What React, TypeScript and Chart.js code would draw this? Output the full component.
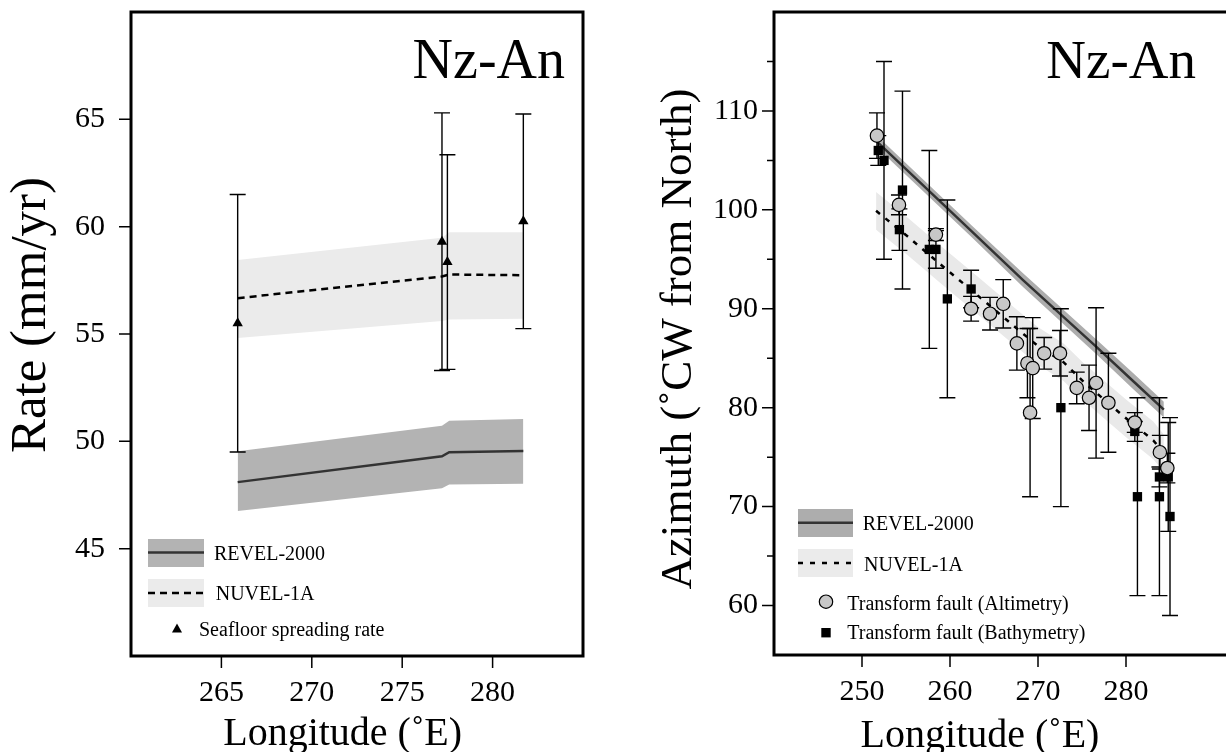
import React, { useEffect, useRef } from "react";
import { Chart, registerables } from "chart.js";
Chart.register(...registerables);

const FONT = "'Liberation Serif', 'Times New Roman', Times, serif";

// ---------------- Left panel: spreading rate ----------------
const rateXTicks = [265, 270, 275, 280];
const rateYTicks = [45, 50, 55, 60, 65];
const rateModelLon = [265.9, 277.2, 277.6, 281.7];
const revelRate = [48.1, 49.3, 49.49, 49.55];
const revelRateHi = [49.54, 50.73, 50.96, 51.04];
const revelRateLo = [46.75, 47.82, 47.99, 48.02];
const nuvelRate = [56.67, 57.68, 57.77, 57.74];
const nuvelRateHi = [58.45, 59.48, 59.74, 59.74];
const nuvelRateLo = [54.81, 55.6, 55.67, 55.71];
const spreadLon = [265.9, 277.2, 277.5, 281.7];
const spreadRate = [55.5, 59.3, 58.35, 60.25];
const spreadErr = [6.0, 6.0, 5.0, 5.0];

// ---------------- Right panel: azimuth ----------------
const azXTicks = [250, 260, 270, 280];
const azYTicks = [60, 65, 70, 75, 80, 85, 90, 95, 100, 105, 110, 115];
const revelAzLon = [251.7, 262.5, 268.3, 276.7, 280.8, 284.3];
const revelAz = [106.9, 97.8, 92.9, 86.1, 82.7, 79.8];
const revelAzHi = [107.5, 98.4, 93.6, 86.85, 83.5, 80.6];
const revelAzLo = [106.3, 97.2, 92.2, 85.35, 81.9, 79.0];
const nuvelAzLon = [251.6, 255.2, 258.9, 263.2, 267.6, 269.9, 272.9, 275.2, 279.9, 283.1, 284.3];
const nuvelAz = [99.9, 97.3, 94.5, 91.3, 88.0, 86.3, 84.6, 82.6, 79.0, 76.7, 75.4];
const nuvelAzHi = [101.8, 99.2, 96.4, 93.2, 89.9, 88.2, 86.5, 84.5, 80.9, 78.6, 77.3];
const nuvelAzLo = [98.0, 95.4, 92.6, 89.4, 86.1, 84.4, 82.7, 80.7, 77.1, 74.8, 73.5];

const altLon = [251.7, 254.2, 258.4, 262.4, 264.55, 266.05, 267.6, 268.8, 269.4, 269.1, 270.7, 272.5, 274.4, 275.8, 276.6, 278.0, 281.0, 283.85, 284.7];
const altAz = [107.5, 100.5, 97.5, 90.0, 89.5, 90.5, 86.5, 84.5, 84.0, 79.5, 85.5, 85.5, 82.0, 81.0, 82.5, 80.5, 78.5, 75.5, 73.9];
const altErr = [2.3, 1.0, 0.6, 1.25, 1.65, 2.45, 2.7, 3.5, 5.1, 8.5, 1.6, 2.3, 1.6, 3.3, 7.6, 5.0, 1.0, 1.7, 1.5];

const bathLon = [251.85, 252.5, 254.6, 254.25, 257.65, 258.4, 259.7, 262.4, 272.6, 281.3, 281.0, 283.8, 284.8, 283.8, 285.0];
const bathAz = [106.0, 105.0, 102.0, 98.0, 96.0, 96.0, 91.0, 92.0, 80.0, 71.0, 77.6, 73.0, 73.0, 71.0, 69.0];
const bathErr = [1.5, 10, 10, 2.1, 10, 1.9, 10, 1.9, 10, 10, 1.0, 1.0, 5.5, 10, 10];

const pts = (xs: number[], ys: number[]) => xs.map((x, i) => ({ x, y: ys[i] }));

type ErrSet = { xs: number[]; ys: number[]; es: number[] };

const makeErrPlugin = (beforeIndex: number, sets: ErrSet[]) => ({
  id: "errbars",
  beforeDatasetDraw(chart: any, args: any) {
    if (args.index !== beforeIndex) return;
    const { ctx, scales } = chart;
    ctx.save();
    ctx.strokeStyle = "#000";
    ctx.lineWidth = 1.4;
    sets.forEach((s) => {
      s.xs.forEach((xv, i) => {
        const px = scales.x.getPixelForValue(xv);
        const p1 = scales.y.getPixelForValue(s.ys[i] - s.es[i]);
        const p2 = scales.y.getPixelForValue(s.ys[i] + s.es[i]);
        ctx.beginPath();
        ctx.moveTo(px, p1);
        ctx.lineTo(px, p2);
        ctx.moveTo(px - 8, p1);
        ctx.lineTo(px + 8, p1);
        ctx.moveTo(px - 8, p2);
        ctx.lineTo(px + 8, p2);
        ctx.stroke();
      });
    });
    ctx.restore();
  },
});

type DecorCfg = {
  title: string;
  titleRight: number;
  titleSize: number;
  xTitle: string;
  xTitleCenter: number;
  xTitleBase: number;
  yTitle: string;
  yTitleBase: number;
  yTitleCenter: number;
  yTitleSize: number;
  isMajorY: (v: number) => boolean;
  legend: (ctx: CanvasRenderingContext2D, L: number, B: number) => void;
};

const makeDecor = (d: DecorCfg) => ({
  id: "decor",
  afterDatasetsDraw(chart: any) {
    const { ctx, chartArea: a, scales } = chart;
    ctx.save();
    ctx.strokeStyle = "#000";
    ctx.lineWidth = 1.5;
    ctx.beginPath();
    scales.x.ticks.forEach((t: any) => {
      const p = scales.x.getPixelForValue(t.value);
      ctx.moveTo(p, a.bottom);
      ctx.lineTo(p, a.bottom + 12);
    });
    scales.y.ticks.forEach((t: any) => {
      const p = scales.y.getPixelForValue(t.value);
      const len = d.isMajorY(t.value) ? 12 : 7;
      ctx.moveTo(a.left - len, p);
      ctx.lineTo(a.left, p);
    });
    ctx.stroke();
    ctx.lineWidth = 3;
    ctx.strokeRect(a.left, a.top, a.right - a.left, a.bottom - a.top);
    ctx.restore();
  },
  afterDraw(chart: any) {
    const { ctx, chartArea: a } = chart;
    const L = a.left;
    const B = a.bottom;
    ctx.save();
    ctx.fillStyle = "#000";
    ctx.textBaseline = "alphabetic";
    ctx.font = `${d.titleSize}px ${FONT}`;
    ctx.textAlign = "right";
    ctx.fillText(d.title, L + d.titleRight, a.top + 66);
    ctx.font = `40px ${FONT}`;
    ctx.textAlign = "center";
    ctx.fillText(d.xTitle, L + d.xTitleCenter, B + d.xTitleBase);
    ctx.save();
    ctx.font = `${d.yTitleSize}px ${FONT}`;
    ctx.translate(L - d.yTitleBase, a.top + d.yTitleCenter);
    ctx.rotate(-Math.PI / 2);
    ctx.fillText(d.yTitle, 0, 0);
    ctx.restore();
    d.legend(ctx, L, B);
    ctx.restore();
  },
});

const dashedLine = (ctx: CanvasRenderingContext2D, x1: number, x2: number, y: number, dash: number[]) => {
  ctx.save();
  ctx.setLineDash(dash);
  ctx.strokeStyle = "#000";
  ctx.lineWidth = 2.5;
  ctx.beginPath();
  ctx.moveTo(x1, y);
  ctx.lineTo(x2, y);
  ctx.stroke();
  ctx.restore();
};

const solidLine = (ctx: CanvasRenderingContext2D, x1: number, x2: number, y: number) => {
  ctx.save();
  ctx.strokeStyle = "#333";
  ctx.lineWidth = 2.5;
  ctx.beginPath();
  ctx.moveTo(x1, y);
  ctx.lineTo(x2, y);
  ctx.stroke();
  ctx.restore();
};

const tickFont = { family: FONT, size: 30 };

const axisCommon = (min: number, max: number, ticks: number[], fit: (s: any) => void, label: (v: number) => string, pad: number) => ({
  type: "linear",
  min,
  max,
  afterBuildTicks: (s: any) => {
    s.ticks = ticks.map((v) => ({ value: v }));
  },
  afterFit: (s: any) => {
    fit(s);
    s.paddingTop = 0;
    s.paddingBottom = 0;
    s.paddingLeft = 0;
    s.paddingRight = 0;
  },
  grid: { display: false, drawTicks: true, tickLength: 12 },
  border: { display: false },
  ticks: {
    color: "#000",
    font: tickFont,
    padding: pad,
    autoSkip: false,
    maxRotation: 0,
    callback: (v: any) => label(Number(v)),
  },
});

const lineDs = (data: any[], extra: any) => ({
  type: "line",
  data,
  pointRadius: 0,
  borderWidth: 0,
  tension: 0,
  fill: false,
  ...extra,
});

function buildRate(canvas: HTMLCanvasElement) {
  const datasets: any[] = [
    {
      type: "line",
      data: pts(spreadLon, spreadRate),
      showLine: false,
      pointStyle: "triangle",
      pointRadius: 6,
      pointBackgroundColor: "#000",
      pointBorderColor: "#000",
      pointBorderWidth: 0,
      order: 0,
    },
    lineDs(pts(rateModelLon, revelRate), { borderColor: "#333", borderWidth: 2.5, order: 1 }),
    lineDs(pts(rateModelLon, nuvelRate), { borderColor: "#000", borderWidth: 2.5, borderDash: [7, 5], order: 2 }),
    lineDs(pts(rateModelLon, revelRateHi), { fill: 4, backgroundColor: "#b3b3b3", order: 3 }),
    lineDs(pts(rateModelLon, revelRateLo), { order: 4 }),
    lineDs(pts(rateModelLon, nuvelRateHi), { fill: 6, backgroundColor: "#ebebeb", order: 5 }),
    lineDs(pts(rateModelLon, nuvelRateLo), { order: 6 }),
  ];
  const decor = makeDecor({
    title: "Nz-An",
    titleRight: 434,
    titleSize: 56,
    xTitle: "Longitude (\u02DAE)",
    xTitleCenter: 211.6,
    xTitleBase: 89,
    yTitle: "Rate (mm/yr)",
    yTitleBase: 86,
    yTitleCenter: 303,
    yTitleSize: 51,
    isMajorY: () => true,
    legend: (ctx, L, B) => {
      ctx.fillStyle = "#b3b3b3";
      ctx.fillRect(L + 17, B - 117, 56, 28);
      solidLine(ctx, L + 17, L + 73, B - 103.5);
      ctx.fillStyle = "#ebebeb";
      ctx.fillRect(L + 17, B - 77, 56, 28);
      dashedLine(ctx, L + 17, L + 73, B - 63, [7, 5]);
      ctx.fillStyle = "#000";
      const tx = L + 46, ty = B - 27;
      ctx.beginPath();
      ctx.moveTo(tx, ty - 5.5);
      ctx.lineTo(tx + 5, ty + 3.5);
      ctx.lineTo(tx - 5, ty + 3.5);
      ctx.closePath();
      ctx.fill();
      ctx.font = `20px ${FONT}`;
      ctx.textAlign = "left";
      ctx.textBaseline = "alphabetic";
      ctx.fillText("REVEL-2000", L + 83, B - 96);
      ctx.fillText("NUVEL-1A", L + 84.7, B - 56);
      ctx.fillText("Seafloor spreading rate", L + 68, B - 20);
    },
  });
  return new Chart(canvas, {
    type: "line",
    data: { datasets },
    options: {
      responsive: false,
      maintainAspectRatio: false,
      animation: false,
      events: [],
      layout: { padding: { left: 0, top: 12, right: 37, bottom: 0 } },
      plugins: { legend: { display: false }, tooltip: { enabled: false }, title: { display: false } },
      scales: {
        x: axisCommon(260, 285, rateXTicks, (s: any) => { s.height = 96; }, (v) => String(v), 7),
        y: axisCommon(40, 70, rateYTicks, (s: any) => { s.width = 131; }, (v) => String(v), 14),
      },
    } as any,
    plugins: [makeErrPlugin(0, [{ xs: spreadLon, ys: spreadRate, es: spreadErr }]), decor],
  } as any);
}

function buildAz(canvas: HTMLCanvasElement) {
  const datasets: any[] = [
    {
      type: "line",
      data: pts(altLon, altAz),
      showLine: false,
      pointStyle: "circle",
      pointRadius: 6.7,
      pointBackgroundColor: "#c8c8c8",
      pointBorderColor: "#000",
      pointBorderWidth: 1.2,
      order: 0,
    },
    {
      type: "line",
      data: pts(bathLon, bathAz),
      showLine: false,
      pointStyle: "rect",
      pointRadius: 6.6,
      pointBackgroundColor: "#000",
      pointBorderColor: "#000",
      pointBorderWidth: 0,
      order: 1,
    },
    lineDs(pts(revelAzLon, revelAz), { borderColor: "#333", borderWidth: 2.5, order: 2 }),
    lineDs(pts(nuvelAzLon, nuvelAz), { borderColor: "#000", borderWidth: 2.5, borderDash: [5, 7], order: 3 }),
    lineDs(pts(revelAzLon, revelAzHi), { fill: 5, backgroundColor: "#adadad", order: 4 }),
    lineDs(pts(revelAzLon, revelAzLo), { order: 5 }),
    lineDs(pts(nuvelAzLon, nuvelAzHi), { fill: 7, backgroundColor: "#e9e9e9", order: 6 }),
    lineDs(pts(nuvelAzLon, nuvelAzLo), { order: 7 }),
  ];
  const decor = makeDecor({
    title: "Nz-An",
    titleRight: 422,
    titleSize: 55,
    xTitle: "Longitude (\u02DAE)",
    xTitleCenter: 206,
    xTitleBase: 91.7,
    yTitle: "Azimuth (\u02DACW from North)",
    yTitleBase: 83,
    yTitleCenter: 327,
    yTitleSize: 45,
    isMajorY: (v) => v % 10 === 0,
    legend: (ctx, L, B) => {
      ctx.fillStyle = "#adadad";
      ctx.fillRect(L + 24, B - 146, 55, 28);
      solidLine(ctx, L + 24, L + 79, B - 132.3);
      ctx.fillStyle = "#ebebeb";
      ctx.fillRect(L + 24, B - 106, 55, 28);
      dashedLine(ctx, L + 24, L + 79, B - 92, [5, 7]);
      ctx.beginPath();
      ctx.arc(L + 52, B - 53.3, 6.7, 0, Math.PI * 2);
      ctx.fillStyle = "#c8c8c8";
      ctx.fill();
      ctx.strokeStyle = "#000";
      ctx.lineWidth = 1.2;
      ctx.stroke();
      ctx.fillStyle = "#000";
      ctx.fillRect(L + 47.3, B - 27, 9.4, 9.4);
      ctx.font = `20px ${FONT}`;
      ctx.textAlign = "left";
      ctx.textBaseline = "alphabetic";
      ctx.fillText("REVEL-2000", L + 88.7, B - 125);
      ctx.fillText("NUVEL-1A", L + 90, B - 84.3);
      ctx.fillText("Transform fault (Altimetry)", L + 73.3, B - 45);
      ctx.fillText("Transform fault (Bathymetry)", L + 73.3, B - 15.7);
    },
  });
  return new Chart(canvas, {
    type: "line",
    data: { datasets },
    options: {
      responsive: false,
      maintainAspectRatio: false,
      animation: false,
      events: [],
      layout: { padding: { left: 0, top: 12, right: 22, bottom: 0 } },
      plugins: { legend: { display: false }, tooltip: { enabled: false }, title: { display: false } },
      scales: {
        x: axisCommon(240, 295, azXTicks, (s: any) => { s.height = 97; }, (v) => String(v), 7),
        y: axisCommon(55, 120, azYTicks, (s: any) => { s.width = 134; }, (v) => (v % 10 === 0 ? String(v) : ""), 4),
      },
    } as any,
    plugins: [
      makeErrPlugin(1, [
        { xs: bathLon, ys: bathAz, es: bathErr },
        { xs: altLon, ys: altAz, es: altErr },
      ]),
      decor,
    ],
  } as any);
}

export default function App() {
  const leftRef = useRef<HTMLCanvasElement>(null);
  const rightRef = useRef<HTMLCanvasElement>(null);
  useEffect(() => {
    const c1 = buildRate(leftRef.current!);
    const c2 = buildAz(rightRef.current!);
    return () => {
      c1.destroy();
      c2.destroy();
    };
  }, []);
  return (
    <div
      style={{
        position: "fixed",
        left: 0,
        top: 0,
        width: 1226,
        height: 752,
        overflow: "hidden",
        background: "#fff",
      }}
    >
      <canvas ref={leftRef} width={620} height={752} style={{ position: "absolute", left: 0, top: 0 }} />
      <canvas ref={rightRef} width={640} height={752} style={{ position: "absolute", left: 640, top: 0 }} />
    </div>
  );
}
